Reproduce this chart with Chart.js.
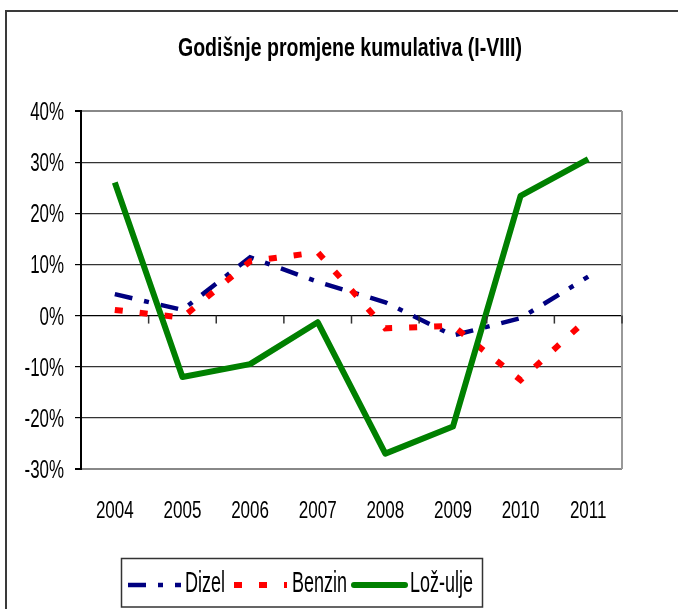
<!DOCTYPE html>
<html>
<head>
<meta charset="utf-8">
<script src="https://cdn.jsdelivr.net/npm/chart.js@4.4.1/dist/chart.umd.min.js"></script>
<style>
  html, body { margin: 0; padding: 0; background: #fff; overflow: hidden; }
  #frame { position: absolute; left: 5px; top: 10px; width: 700px; height: 640px; border: 2px solid #3a3a3a; }
  #wrap { position: absolute; left: 0; top: 0; width: 678px; height: 609px; }
</style>
</head>
<body>
<div id="frame"></div>
<div id="wrap"><canvas id="chart" width="678" height="609"></canvas></div>
<script>
const years = ["2004", "2005", "2006", "2007", "2008", "2009", "2010", "2011"];
const dizel = [4.2, 1.1, 11.4, 6.6, 2.6, -3.9, -0.5, 7.6];
const benzin = [1.1, -0.4, 10.6, 12.4, -2.5, -2.0, -12.6, -0.5];
const lozUlje = [26.0, -12.0, -9.5, -1.3, -27.0, -21.7, 23.4, 30.6];
const yTicks = [-30, -20, -10, 0, 10, 20, 30, 40];
const title = "Godišnje promjene kumulativa (I-VIII)";

const FONT = "'Liberation Sans', Arial, sans-serif";

// the original uses a narrow font, so text is drawn squeezed horizontally
function narrowText(ctx, text, x, y, size, weight, sx, align) {
    ctx.save();
    ctx.font = weight + " " + size + "px " + FONT;
    ctx.fillStyle = "#000";
    ctx.textAlign = align;
    ctx.textBaseline = "alphabetic";
    ctx.translate(x, y);
    ctx.scale(sx, 1);
    ctx.fillText(text, 0, 0);
    ctx.restore();
}

const labelsPlugin = {
    id: "labelsPlugin",
    afterDraw(chart) {
        const ctx = chart.ctx;
        const xs = chart.scales.x;
        const ys = chart.scales.y;
        // title, squeezed to the width of the original
        ctx.save();
        ctx.font = "bold 25px " + FONT;
        const tw = ctx.measureText(title).width;
        ctx.restore();
        narrowText(ctx, title, 350, 56, 25, "bold", 344 / tw, "center");
        yTicks.forEach(v => {
            narrowText(ctx, v + "%", 64, ys.getPixelForValue(v) + 9, 26, "normal", 0.65, "right");
        });
        years.forEach((yr, i) => {
            narrowText(ctx, yr, xs.getPixelForValue(i), 518, 23, "normal", 0.74, "center");
        });
    }
};

// small tick marks on the zero line + right border of the plot
const zeroTicks = {
    id: "zeroTicks",
    afterDatasetsDraw(chart) {
        const ctx = chart.ctx;
        const x = chart.scales.x;
        const y0 = chart.scales.y.getPixelForValue(0);
        const area = chart.chartArea;
        ctx.save();
        ctx.strokeStyle = "#999";
        ctx.lineWidth = 2;
        ctx.beginPath();
        ctx.moveTo(area.right, area.top);
        ctx.lineTo(area.right, area.bottom);
        ctx.stroke();
        ctx.strokeStyle = "#333";
        ctx.lineWidth = 1.5;
        for (let i = 0; i < years.length; i++) {
            let bx = (i === years.length - 1) ? area.right : (x.getPixelForValue(i) + x.getPixelForValue(i + 1)) / 2;
            ctx.beginPath();
            ctx.moveTo(bx, y0);
            ctx.lineTo(bx, y0 + 8);
            ctx.stroke();
        }
        ctx.restore();
    }
};

// legend drawn inside a box, like the original
const boxLegend = {
    id: "boxLegend",
    afterDraw(chart) {
        const ctx = chart.ctx;
        const items = [
            { x: 128, tx: 185 },
            { x: 234, tx: 292 },
            { x: 354, tx: 410 }
        ];
        const cy = 585;
        ctx.save();
        ctx.strokeStyle = "#333";
        ctx.lineWidth = 1.5;
        ctx.strokeRect(121.5, 558.5, 361, 48.5);
        chart.data.datasets.forEach((ds, i) => {
            const it = items[i];
            ctx.strokeStyle = ds.borderColor;
            ctx.lineWidth = ds.borderWidth;
            ctx.setLineDash(ds.borderDash || []);
            ctx.lineCap = ds.borderDash ? "butt" : "round";
            ctx.beginPath();
            ctx.moveTo(it.x, cy);
            ctx.lineTo(it.x + (ds.borderDash ? 53 : 51), cy);
            ctx.stroke();
            ctx.setLineDash([]);
            narrowText(ctx, ds.label, it.tx, 592, 29, "normal", 0.62, "left");
        });
        ctx.restore();
    }
};

new Chart(document.getElementById("chart"), {
    type: "line",
    data: {
        labels: years,
        datasets: [
            { label: "Dizel", data: dizel, borderColor: "#000080", borderWidth: 4.5, borderDash: [18, 12, 5, 12], order: 3 },
            { label: "Benzin", data: benzin, borderColor: "#ff0000", borderWidth: 6, borderDash: [8, 17], order: 2 },
            { label: "Lož-ulje", data: lozUlje, borderColor: "#008000", borderWidth: 6, borderJoinStyle: "round", order: 1 }
        ]
    },
    options: {
        responsive: false,
        animation: false,
        layout: { padding: { top: 111, left: 0, right: 56, bottom: 80 } },
        elements: { point: { radius: 0 }, line: { tension: 0 } },
        plugins: {
            legend: { display: false },
            tooltip: { enabled: false },
            title: { display: false }
        },
        scales: {
            x: {
                offset: true,
                grid: { display: false },
                border: { display: false },
                ticks: { display: false },
                afterFit(scale) { scale.height = 60; }
            },
            y: {
                min: -30,
                max: 40,
                afterBuildTicks(scale) { scale.ticks = yTicks.map(v => ({ value: v })); },
                grid: {
                    color: ctx => ctx.tick && ctx.tick.value === 0 ? "#000" : (ctx.tick && (ctx.tick.value === 40 || ctx.tick.value === -30) ? "#888" : "#333"),
                    lineWidth: ctx => ctx.tick && (ctx.tick.value === 40 || ctx.tick.value === -30) ? 2 : 1.2,
                    tickLength: 6,
                    tickColor: "#000"
                },
                border: { display: true, color: "#000", width: 2 },
                ticks: { display: false },
                afterFit(scale) { scale.width = 81; }
            }
        }
    },
    plugins: [zeroTicks, labelsPlugin, boxLegend]
});
</script>
</body>
</html>
